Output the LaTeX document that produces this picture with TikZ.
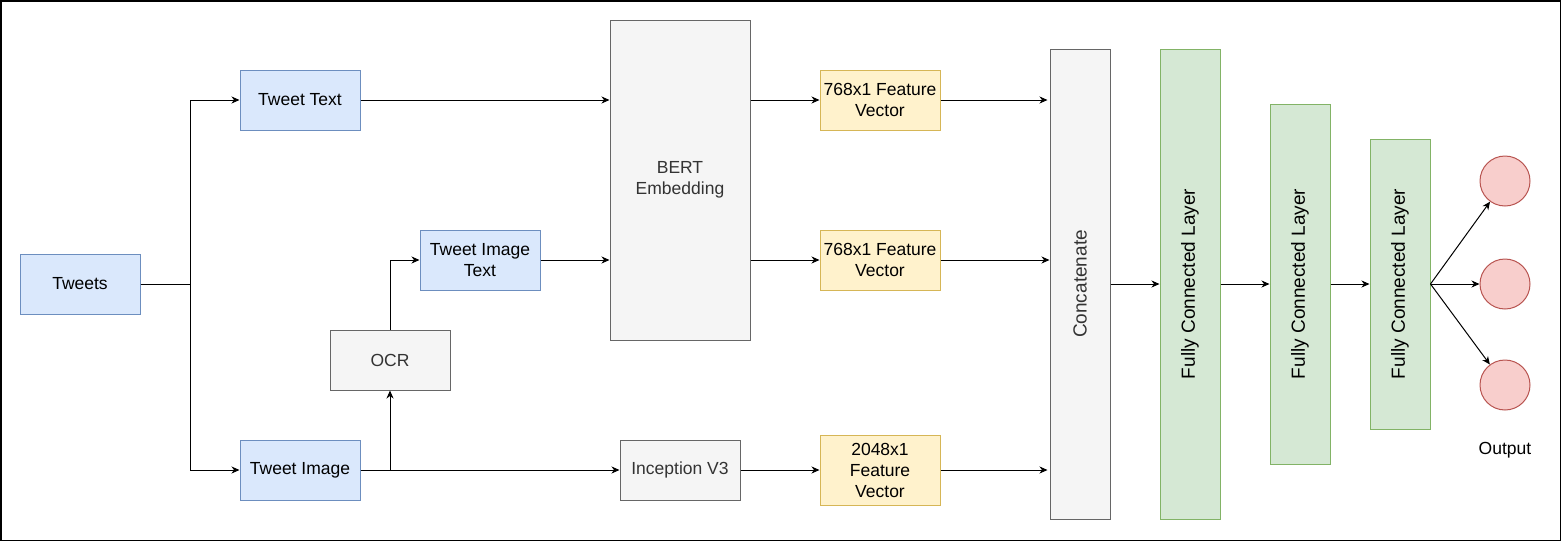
\documentclass[tikz,border=0pt]{standalone}
\usepackage{fontspec}
\setmainfont{Liberation Sans}
\definecolor{bluefill}{HTML}{DAE8FC}
\definecolor{blueline}{HTML}{6C8EBF}
\definecolor{grayfill}{HTML}{F5F5F5}
\definecolor{grayline}{HTML}{666666}
\definecolor{graytext}{HTML}{333333}
\definecolor{yellowfill}{HTML}{FFF2CC}
\definecolor{yellowline}{HTML}{D6B656}
\definecolor{greenfill}{HTML}{D5E8D4}
\definecolor{greenline}{HTML}{82B366}
\definecolor{redfill}{HTML}{F8CECC}
\definecolor{redline}{HTML}{B85450}
\usetikzlibrary{shapes,arrows.meta}
\tikzstyle{input} = [rectangle, draw=blueline, fill=bluefill, align=center,
    minimum width=120pt, minimum height=60pt, inner sep=0pt]
\tikzstyle{model} = [rectangle, draw=grayline, fill=grayfill, text=graytext,
    align=center, inner sep=0pt]
\tikzstyle{feature} = [rectangle, draw=yellowline, fill=yellowfill, align=center,
    minimum width=120pt, minimum height=60pt, inner sep=0pt]
\tikzstyle{layer} = [rectangle, draw=greenline, fill=greenfill,
    minimum width=60pt, inner sep=0pt]
\tikzstyle{neuron} = [circle, draw=redline, fill=redfill, minimum size=50pt, inner sep=0pt]
\tikzstyle{line} = [draw, -{Stealth[length=8pt, width=7pt, inset=2.5pt]}]
\newcommand{\vlabel}[1]{\rotatebox{90}{\fontsize{19}{23}\selectfont #1}}

\begin{document}
\begin{tikzpicture}[x=1pt, y=1pt, node distance=120pt, line width=1pt,
    font=\fontsize{17.5}{21}\selectfont]
  \useasboundingbox (0,0) rectangle (1561,-541);
  \draw [line width=1.5pt] (0.75,-0.75) rectangle (1560.25,-540.25);
  % inputs
  \node [input] (tweets) at (80,-284) {Tweets};
  \node [input] (ttext) at (300,-100) {Tweet Text};
  \node [input, below of=ttext, node distance=370pt] (timage) {Tweet Image};
  \node [model, minimum width=120pt, minimum height=60pt] (ocr) at (390,-360) {OCR};
  \node [input] (timgtext) at (480,-260) {Tweet Image\\Text};
  % feature extractors
  \node [model, minimum width=140pt, minimum height=320pt] (bert) at (680,-180) {BERT\\Embedding};
  \node [model, right of=timage, node distance=380pt, minimum width=120pt, minimum height=60pt] (incep) {Inception V3};
  \node [feature, right of=ttext, node distance=580pt] (fv_text) {768x1 Feature\\Vector};
  \node [feature, right of=timgtext, node distance=400pt] (fv_ocr) {768x1 Feature\\Vector};
  \node [feature, right of=incep, node distance=200pt, minimum height=70pt] (fv_image) {2048x1\\Feature\\Vector};
  % classifier
  \node [model, minimum width=60pt, minimum height=470pt] (concat) at (1080,-284) {\vlabel{Concatenate}};
  \node [layer, right of=concat, node distance=110pt, minimum height=470pt] (fc1) {\vlabel{Fully Connected Layer}};
  \node [layer, right of=fc1, node distance=110pt, minimum height=360pt] (fc2) {\vlabel{Fully Connected Layer}};
  \node [layer, right of=fc2, node distance=100pt, minimum height=290pt] (fc3) {\vlabel{Fully Connected Layer}};
  \node [neuron, right of=fc3, node distance=105pt] (out2) {};
  \node [neuron, above of=out2, node distance=103pt] (out1) {};
  \node [neuron, below of=out2, node distance=101pt] (out3) {};
  \node [below of=out3, node distance=65pt] (outlabel) {Output};
  % connectors
  \path [line] (tweets.east) -- ++(50,0) |- (ttext.west);
  \path [line] (tweets.east) -- ++(50,0) |- (timage.west);
  \path [line] (timage.east) -| (ocr.south);
  \path [line] (ocr.north) |- (timgtext.west);
  \path [line] (ttext) -- (ttext -| bert.west);
  \path [line] (timgtext) -- (timgtext -| bert.west);
  \path [line] (timage) -- (incep);
  \path [line] (bert.east |- fv_text) -- (fv_text);
  \path [line] (bert.east |- fv_ocr) -- (fv_ocr);
  \path [line] (incep) -- (fv_image);
  \path [line] (fv_text) -- ([xshift=-2pt]fv_text -| concat.west);
  \path [line] (fv_ocr) -- (fv_ocr -| concat.west);
  \path [line] (fv_image) -- ([xshift=-2pt]fv_image -| concat.west);
  \path [line] (concat) -- (fc1);
  \path [line] (fc1) -- (fc2);
  \path [line] (fc2) -- (fc3);
  \path [line] (fc3.east) -- (out1);
  \path [line] (fc3.east) -- (out2);
  \path [line] (fc3.east) -- (out3);
\end{tikzpicture}
\end{document}
